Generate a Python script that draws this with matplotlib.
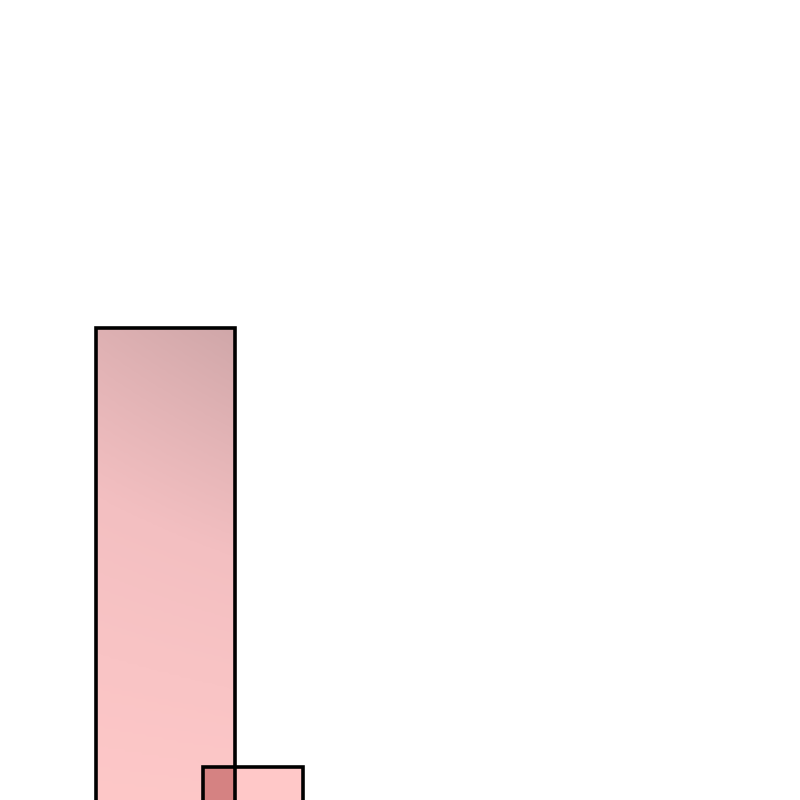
import numpy as np
import matplotlib.pyplot as plt
from matplotlib.colors import LinearSegmentedColormap

# two overlapping bars (left edge, width, top), axes units
lefts = [1.2, 2.54]
widths = [1.74, 1.25]
tops = [5.9, 0.41]
base = -1.0
heights = [t - base for t in tops]

fig = plt.figure(figsize=(8, 8), dpi=100)
ax = fig.add_axes([0, 0, 1, 1])
ax.set_xlim(0, 10)
ax.set_ylim(0, 10)
ax.axis("off")

bars = ax.bar(lefts, heights, width=widths, bottom=base, align="edge",
              facecolor="none", edgecolor="black", linewidth=2.6, zorder=4)

# gradient fill for the tall bar, darker toward the top right
b0 = bars[0]
x0, x1 = lefts[0], lefts[0] + widths[0]
y0, y1 = base, tops[0]
yy, xx = np.mgrid[0:1:200j, 0:1:50j]
t = np.clip(yy ** 1.3 * (0.8 + 0.2 * xx), 0, 1)
cmap = LinearSegmentedColormap.from_list("pinkfade", ["#ffc9c9", "#f3bfc1", "#d0a7a9"])
img = ax.imshow(t, cmap=cmap, extent=[x0, x1, y0, y1], origin="lower",
                aspect="auto", zorder=2, interpolation="bilinear")
img.set_clip_path(b0)

# short bar fill
ax.bar([lefts[1]], [heights[1]], width=[widths[1]], bottom=base, align="edge",
       facecolor="#ffc8c8", edgecolor="none", zorder=1.5)

# overlap of the two bars is darker
ox0 = max(lefts[0], lefts[1])
ox1 = min(lefts[0] + widths[0], lefts[1] + widths[1])
oh = min(heights[0], heights[1])
ax.bar([ox0], [oh], width=[ox1 - ox0], bottom=base, align="edge",
       facecolor="#d58282", edgecolor="none", zorder=3)

ax.set_xlim(0, 10)
ax.set_ylim(0, 10)
fig.savefig("out.png", dpi=100)
